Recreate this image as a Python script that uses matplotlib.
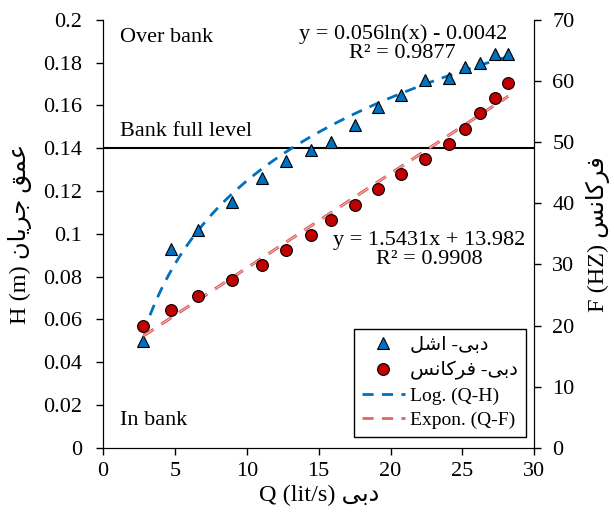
import numpy as np
import matplotlib
matplotlib.use("Agg")
import matplotlib.pyplot as plt
from matplotlib.lines import Line2D

# measured discharge, gauge height and frequency
q = [2.8, 4.75, 6.6, 9.0, 11.05, 12.75, 14.45, 15.85, 17.5, 19.1,
     20.75, 22.4, 24.05, 25.2, 26.2, 27.3, 28.2]
h = [0.050, 0.093, 0.102, 0.115, 0.126, 0.134, 0.139, 0.143, 0.151, 0.159,
     0.165, 0.172, 0.173, 0.178, 0.180, 0.184, 0.184]
f = [20.0, 22.5, 24.9, 27.5, 29.9, 32.4, 34.8, 37.3, 39.7, 42.3,
     44.8, 47.3, 49.7, 52.2, 54.7, 57.2, 59.6]

log_a, log_b = 0.056, -0.0042
lin_a, lin_b = 1.5431, 13.982
bank_full = 0.14

# arabic letter forms: isolated, final, initial, medial
FORMS = {
    "ا": ("\uFE8D", "\uFE8E", "\uFE8D", "\uFE8E"),
    "د": ("\uFEA9", "\uFEAA", "\uFEA9", "\uFEAA"),
    "ر": ("\uFEAD", "\uFEAE", "\uFEAD", "\uFEAE"),
    "ب": ("\uFE8F", "\uFE90", "\uFE91", "\uFE92"),
    "ج": ("\uFE9D", "\uFE9E", "\uFE9F", "\uFEA0"),
    "س": ("\uFEB1", "\uFEB2", "\uFEB3", "\uFEB4"),
    "ش": ("\uFEB5", "\uFEB6", "\uFEB7", "\uFEB8"),
    "ع": ("\uFEC9", "\uFECA", "\uFECB", "\uFECC"),
    "ف": ("\uFED1", "\uFED2", "\uFED3", "\uFED4"),
    "ق": ("\uFED5", "\uFED6", "\uFED7", "\uFED8"),
    "ل": ("\uFEDD", "\uFEDE", "\uFEDF", "\uFEE0"),
    "م": ("\uFEE1", "\uFEE2", "\uFEE3", "\uFEE4"),
    "ن": ("\uFEE5", "\uFEE6", "\uFEE7", "\uFEE8"),
    "ک": ("\uFB8E", "\uFB8F", "\uFB90", "\uFB91"),
    "ی": ("\uFBFC", "\uFBFD", "\uFBFE", "\uFBFF"),
}
RIGHT_ONLY = set("ادر")


def rtl(text):
    out = []
    for i, ch in enumerate(text):
        if ch not in FORMS:
            out.append(ch)
            continue
        prev = text[i - 1] if i > 0 else ""
        nxt = text[i + 1] if i + 1 < len(text) else ""
        join_prev = prev in FORMS and prev not in RIGHT_ONLY
        join_next = ch not in RIGHT_ONLY and nxt in FORMS
        iso, fin, ini, med = FORMS[ch]
        if join_prev and join_next:
            out.append(med)
        elif join_prev:
            out.append(fin)
        elif join_next:
            out.append(ini)
        else:
            out.append(iso)
    return "".join(out)[::-1]


plt.rcParams["font.family"] = ["Liberation Serif", "DejaVu Sans"]
plt.rcParams["font.size"] = 16

fig = plt.figure(figsize=(6.14, 5.19), dpi=100)
ax = fig.add_axes([0.168, 0.137, 0.702, 0.825])
ax2 = ax.twinx()

xs = np.linspace(min(q), max(q), 200)

ax.plot(q, h, linestyle="none", marker="^", markersize=8,
        markerfacecolor="#0070C0", markeredgecolor="black", markeredgewidth=0.8, zorder=4)
ax.plot(xs, log_a * np.log(xs) + log_b, color="#0070C0", linestyle="--",
        dashes=(4, 3), linewidth=2, zorder=3)
ax.axhline(bank_full, color="black", linewidth=1.5, zorder=2)

ax2.plot(q, f, linestyle="none", marker="o", markersize=8.5,
         markerfacecolor="#C00000", markeredgecolor="black", markeredgewidth=0.8, zorder=4)
# exponential-style trend line: red dash with a pale core
ax2.plot(xs, lin_a * xs + lin_b, color="#D9534F", linestyle="--",
         dashes=(4, 3), linewidth=2.2, zorder=3)
ax2.plot(xs, lin_a * xs + lin_b, color="#F4B6B4", linestyle="--",
         dashes=(4 * 2.2 / 0.8, 3 * 2.2 / 0.8), linewidth=0.8, zorder=3)

ax.set_xlim(0, 30)
ax.set_ylim(0, 0.2)
ax2.set_ylim(0, 70)
ax.set_xticks(np.arange(0, 31, 5))
ax.set_yticks(np.arange(0, 0.201, 0.02))
ax.set_yticklabels(["0", "0.02", "0.04", "0.06", "0.08", "0.1", "0.12",
                    "0.14", "0.16", "0.18", "0.2"])
ax2.set_yticks(np.arange(0, 71, 10))

for a in (ax, ax2):
    a.spines["top"].set_visible(False)
    a.tick_params(direction="out", length=5, width=1, labelsize=16, pad=5)
ax.tick_params(axis="y", pad=10)
ax2.tick_params(axis="y", pad=8)

ax.text(1.2, 0.1915, "Over bank", fontsize=16, va="center")
ax.text(1.2, 0.1477, "Bank full level", fontsize=16, va="center")
ax.text(1.2, 0.0126, "In bank", fontsize=16, va="center")
ax.text(20.85, 0.1888, "y = 0.056ln(x) - 0.0042\nR² = 0.9877", fontsize=16,
        ha="center", va="center", linespacing=1.0)
ax.text(22.7, 0.0925, "y = 1.5431x + 13.982\nR² = 0.9908", fontsize=16,
        ha="center", va="center", linespacing=1.0)

ax.set_xlabel("Q (lit/s) " + rtl("دبی"), fontsize=17.5, labelpad=3)
ax.set_ylabel("H (m) " + rtl("عمق جریان"), fontsize=17.5, labelpad=8)
ax2.set_ylabel("F (HZ) " + rtl("فرکانس"), fontsize=17.5, labelpad=8)

handles = [
    Line2D([], [], linestyle="none", marker="^", markersize=8,
           markerfacecolor="#0070C0", markeredgecolor="black", markeredgewidth=0.8),
    Line2D([], [], linestyle="none", marker="o", markersize=8.5,
           markerfacecolor="#C00000", markeredgecolor="black", markeredgewidth=0.8),
    Line2D([], [], color="#0070C0", linestyle="--", dashes=(4, 3), linewidth=2),
    Line2D([], [], color="#E06666", linestyle="--", dashes=(4, 3), linewidth=2),
]
labels = [rtl("دبی- اشل"), rtl("دبی- فرکانس"), "Log. (Q-H)", "Expon. (Q-F)"]
leg = ax2.legend(handles, labels, loc="lower right", bbox_to_anchor=(0.981, 0.026),
                 borderaxespad=0, fontsize=14, frameon=True, fancybox=False,
                 edgecolor="black", framealpha=1, handlelength=2.2,
                 borderpad=0.4, labelspacing=0.35, handletextpad=0.3)
leg.get_frame().set_linewidth(1)

fig.savefig("out.png", dpi=100)
